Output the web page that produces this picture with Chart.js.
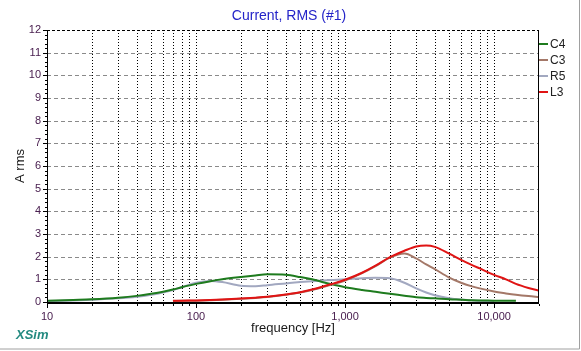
<!DOCTYPE html>
<html><head><meta charset="utf-8">
<script src="https://cdn.jsdelivr.net/npm/chart.js@4/dist/chart.umd.min.js"></script>
<style>html,body{margin:0;padding:0;background:#fff;}#wrap{width:581px;height:351px;position:relative;}</style>
</head><body><div id="wrap"><canvas id="c" width="581" height="351"></canvas></div>
<script>
const freqs = [10,15,20,30,40,50,60,70,80,100,125,150,200,250,300,400,500,600,800,1000,1300,1600,2000,2500,3000,3500,4000,5000,6000,7000,8000,10000,12000,14000,17000,20000];
const c4 = [0.05,0.09,0.12,0.19,0.27,0.36,0.45,0.55,0.65,0.80,0.92,1.00,1.10,1.17,1.22,1.20,1.10,1.00,0.79,0.65,0.53,0.45,0.36,0.28,0.21,0.18,0.16,0.12,0.10,0.08,0.07,0.06,0.05,0.05,null,null];
const c3 = [null,null,null,null,null,null,null,0.04,0.05,0.06,0.08,0.10,0.14,0.18,0.22,0.32,0.42,0.53,0.76,0.95,1.27,1.58,1.96,2.14,1.92,1.66,1.45,1.08,0.85,0.70,0.60,0.46,0.38,0.32,0.26,0.22];
const r5 = [0.04,0.07,0.10,0.16,0.23,0.32,0.42,0.53,0.65,0.85,0.93,0.88,0.72,0.70,0.74,0.82,0.88,0.92,0.97,1.00,1.05,1.07,1.05,0.85,0.60,0.42,0.30,0.17,0.11,0.08,0.05,0.04,null,null,null,null];
const l3 = [null,null,null,null,null,null,null,0.05,0.06,0.07,0.09,0.11,0.15,0.19,0.23,0.33,0.43,0.55,0.78,0.98,1.29,1.60,1.98,2.26,2.45,2.49,2.43,2.13,1.86,1.65,1.48,1.20,1.00,0.80,0.62,0.50];
const seriesNames = ['C4','C3','R5','L3'];
const yTicks = [0,1,2,3,4,5,6,7,8,9,10,11,12];
const xMajorTicks = [10,100,1000,10000];

const colors = ['#1e7b1e','#a47868','#a2a8c0','#e01414'];
const allSeries = [c4,c3,r5,l3];
const xGridVals = [];
for (let d=10; d<=10000; d*=10) for (let m=1; m<=9; m++) { const v=d*m; if (v<=20000) xGridVals.push(v); }
xGridVals.push(20000);

const datasets = allSeries.map((s,i)=>({
  label: seriesNames[i],
  data: freqs.map((f,j)=>({x:f,y:s[j]})).filter(p=>p.y!==null),
  borderColor: colors[i], borderWidth: 2, pointRadius: 0, fill:false,
  cubicInterpolationMode:'monotone', tension:0.4
}));
// draw order: R5, C4, C3, L3 on top
datasets[0].order = 2; datasets[1].order = 1; datasets[2].order = 3; datasets[3].order = 0;

const decorPlugin = {
  id:'decor',
  beforeDatasetsDraw(chart){
    const {ctx, chartArea:a, scales:{x,y}} = chart;
    ctx.save();
    // horizontal dashed grid
    ctx.strokeStyle='#8a8a8a'; ctx.lineWidth=1; ctx.setLineDash([4,3]);
    for (let v=1; v<12; v++){ const py=Math.round(y.getPixelForValue(v))+0.5; ctx.beginPath(); ctx.moveTo(a.left,py); ctx.lineTo(a.right,py); ctx.stroke(); }
    // vertical dotted grid
    ctx.strokeStyle='#000'; ctx.setLineDash([1,2]);
    xGridVals.forEach(v=>{ if(v<=10||v>=20000) return; const px=Math.round(x.getPixelForValue(v))+0.5; ctx.beginPath(); ctx.moveTo(px,a.top); ctx.lineTo(px,a.bottom); ctx.stroke(); });
    // top dashed
    ctx.setLineDash([3,2]); ctx.beginPath(); ctx.moveTo(a.left,a.top+0.5); ctx.lineTo(a.right,a.top+0.5); ctx.stroke();
    ctx.restore();
  },
  afterDatasetsDraw(chart){
    const {ctx, chartArea:a, scales:{x,y}} = chart;
    ctx.save();
    ctx.setLineDash([]);
    ctx.strokeStyle='#000'; ctx.lineWidth=1;
    // frame
    ctx.beginPath(); ctx.moveTo(Math.round(a.left)+0.5,a.top); ctx.lineTo(Math.round(a.left)+0.5,a.bottom); ctx.stroke();
    ctx.beginPath(); ctx.moveTo(Math.round(a.right)-0.5,a.top); ctx.lineTo(Math.round(a.right)-0.5,a.bottom); ctx.stroke();
    ctx.lineWidth=2; ctx.beginPath(); ctx.moveTo(a.left,a.bottom+1); ctx.lineTo(a.right,a.bottom+1); ctx.stroke();
    ctx.lineWidth=1;
    // y ticks
    for (let v=0; v<=12.001; v+=0.2){ const py=Math.round(y.getPixelForValue(v))+0.5; const major=Math.abs(v-Math.round(v))<0.01; ctx.beginPath(); ctx.moveTo(a.left-(major?4:2),py); ctx.lineTo(a.left,py); ctx.stroke(); }
    // x ticks
    xGridVals.forEach(v=>{ const px=Math.round(x.getPixelForValue(v))+0.5; const major=xMajorTicks.includes(v); ctx.beginPath(); ctx.moveTo(px,a.bottom+2); ctx.lineTo(px,a.bottom+(major?6:4)); ctx.stroke(); });
    // title
    ctx.fillStyle='#2424c8'; ctx.font='14px "Liberation Sans", Arial, sans-serif'; ctx.textAlign='center'; ctx.textBaseline='middle';
    ctx.fillText('Current, RMS (#1)', 289, 16);
    // axis titles
    ctx.fillStyle='#1a1a1a'; ctx.font='13px "Liberation Sans", Arial, sans-serif';
    ctx.fillText('frequency [Hz]', 293, 328);
    ctx.save(); ctx.translate(20,166); ctx.rotate(-Math.PI/2); ctx.fillText('A rms',0,0); ctx.restore();
    // XSim
    ctx.fillStyle='#238a80'; ctx.font='italic bold 13px "Liberation Sans", Arial, sans-serif'; ctx.textAlign='left';
    ctx.fillText('XSim', 16, 335);
    // legend
    ctx.font='12px "Liberation Sans", Arial, sans-serif'; ctx.textAlign='left';
    seriesNames.forEach((n,i)=>{ const py=44+i*16; ctx.strokeStyle=colors[i]; ctx.lineWidth=2; ctx.beginPath(); ctx.moveTo(a.right,py); ctx.lineTo(a.right+9,py); ctx.stroke(); ctx.fillStyle='#222'; ctx.fillText(n, a.right+11, py+1); });
    // outer frame
    ctx.strokeStyle='#a0a0a0'; ctx.lineWidth=1;
    ctx.beginPath(); ctx.moveTo(579.5,0); ctx.lineTo(579.5,349); ctx.lineTo(0,349); ctx.stroke();
    ctx.restore();
  }
};

new Chart(document.getElementById('c'), {
  type:'line',
  data:{datasets},
  options:{
    responsive:false, animation:false, devicePixelRatio:1,
    layout:{padding:{left:0,right:42,top:30,bottom:0}},
    plugins:{legend:{display:false}, tooltip:{enabled:false}, title:{display:false}},
    scales:{
      x:{type:'logarithmic', min:10, max:20000,
        afterBuildTicks(s){ s.ticks = xGridVals.map(v=>({value:v})); },
        afterFit(s){ s.height = 49; },
        grid:{display:false, drawTicks:false}, border:{display:false},
        ticks:{autoSkip:false, maxRotation:0, padding:8, color:'#4a2050', font:{family:'"Liberation Sans", Arial, sans-serif', size:11},
          callback(v){ return xMajorTicks.includes(v) ? v.toLocaleString('en-US') : ''; }}
      },
      y:{min:0, max:12,
        afterBuildTicks(s){ s.ticks = yTicks.map(v=>({value:v})); },
        afterFit(s){ s.width = 47; },
        grid:{display:false, drawTicks:false}, border:{display:false},
        ticks:{padding:6, color:'#4a2050', font:{family:'"Liberation Sans", Arial, sans-serif', size:11}}
      }
    }
  },
  plugins:[decorPlugin]
});
</script></body></html>
